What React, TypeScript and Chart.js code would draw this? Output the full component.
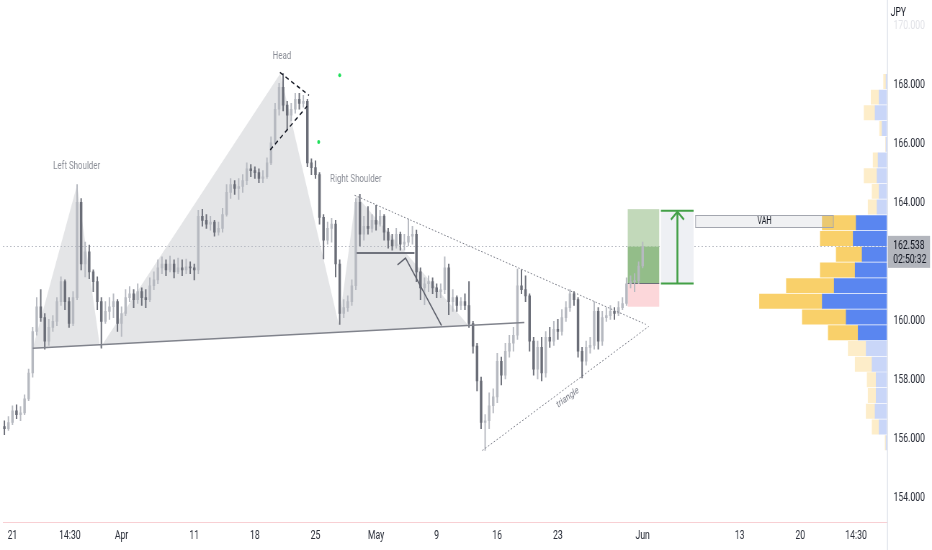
import React, { useEffect, useRef } from "react";
import { Chart, registerables } from "chart.js";

Chart.register(...registerables);

// ---------- output / design geometry ----------
const OUT_W = 932;
const OUT_H = 550;
const DESIGN_W = 1294; // drawn wider, then shown squeezed to 932 (reference is horizontally compressed)
const SQ = OUT_W / DESIGN_W;
const PRICE_AXIS_W = 45 / SQ;
const TIME_AXIS_H = 28;

// ---------- candles (8h bars, index = bar number) ----------
const barOpen = [
  156.42, 156.35, 156.56, 156.96, 156.83, 156.89, 157.36, 158.24, 159.65, 160.49,
  160.12, 159.32, 159.79, 159.99, 160.66, 161.34, 160.66, 159.92, 160.80, 164.03,
  161.94, 162.35, 161.67, 161.34, 160.66, 159.99, 160.33, 160.49, 160.66, 159.92,
  160.26, 160.80, 160.93, 160.73, 161.00, 160.80, 160.73, 161.20, 161.40, 161.81,
  161.94, 161.74, 161.94, 161.67, 161.81, 161.74, 161.84, 161.81, 161.74, 163.56,
  163.42, 163.29, 163.36, 163.02, 163.15, 163.62, 164.37, 164.63, 164.50, 164.57,
  164.77, 165.17, 165.11, 165.04, 164.84, 164.90, 165.37, 166.05, 167.19, 167.93,
  167.33, 166.99, 167.19, 167.53, 167.39, 167.46, 165.37, 165.21, 164.97, 163.52,
  162.75, 163.15, 163.29, 161.94, 160.26, 160.46, 160.66, 161.20, 164.03, 162.95,
  163.22, 163.15, 163.42, 163.29, 163.56, 163.02, 162.75, 162.55, 162.95, 162.61,
  162.68, 162.88, 162.95, 161.67, 161.13, 161.27, 161.34, 161.13, 161.00, 161.07,
  161.81, 160.66, 160.80, 160.53, 160.66, 160.53, 159.92, 159.15, 157.97, 156.56,
  156.62, 157.13, 157.43, 158.64, 158.17, 158.98, 159.25, 159.52, 161.20, 161.07,
  160.86, 159.32, 158.37, 159.11, 158.24, 159.45, 159.32, 159.72, 159.65, 160.12,
  160.46, 160.93, 160.73, 158.98, 158.64, 159.11, 159.18, 160.33, 159.32, 160.12,
  160.19, 160.33, 160.26, 160.46, 160.60, 161.27, 161.34, 161.37, 161.87,
];
const barHigh = [
  156.62, 156.76, 157.13, 157.16, 157.10, 157.50, 158.37, 159.79, 160.80, 161.07,
  160.26, 160.06, 160.19, 160.80, 161.50, 161.40, 160.80, 161.00, 164.63, 164.16,
  162.68, 162.58, 161.74, 161.50, 160.80, 160.66, 160.80, 160.93, 160.73, 160.49,
  161.07, 161.17, 161.07, 161.27, 161.13, 161.07, 161.47, 161.67, 162.08, 162.18,
  162.08, 162.21, 162.08, 162.14, 162.08, 162.11, 162.01, 161.94, 163.76, 163.79,
  163.62, 163.56, 163.42, 163.36, 163.83, 164.63, 164.84, 164.77, 164.84, 164.97,
  165.37, 165.31, 165.24, 165.17, 165.11, 165.54, 166.25, 167.39, 168.07, 168.40,
  167.46, 167.39, 167.73, 167.73, 167.66, 167.53, 165.51, 165.44, 165.04, 163.62,
  163.36, 163.49, 163.42, 162.08, 160.73, 160.86, 161.40, 164.16, 164.30, 163.56,
  163.89, 163.62, 163.93, 163.76, 163.62, 163.15, 162.95, 163.15, 163.02, 162.95,
  163.46, 163.22, 163.09, 161.81, 161.47, 161.54, 161.47, 161.27, 161.27, 162.18,
  161.94, 161.07, 160.86, 160.80, 160.93, 161.34, 159.99, 159.25, 158.10, 156.83,
  157.57, 157.70, 158.91, 158.78, 159.25, 159.52, 159.79, 161.77, 161.74, 161.54,
  160.93, 159.45, 159.32, 159.45, 159.65, 159.79, 159.99, 160.06, 160.39, 160.66,
  161.07, 161.00, 160.80, 159.11, 159.32, 159.45, 160.66, 160.46, 160.33, 160.46,
  160.53, 160.46, 160.66, 160.80, 161.47, 161.54, 161.61, 162.01, 162.68,
];
const barLow = [
  156.15, 156.29, 156.49, 156.69, 156.62, 156.83, 157.30, 158.10, 159.52, 159.99,
  159.05, 159.18, 159.65, 159.85, 160.53, 160.39, 159.79, 159.85, 160.73, 161.74,
  161.50, 161.44, 161.00, 160.39, 159.08, 159.92, 160.06, 160.12, 159.65, 159.48,
  160.19, 160.66, 160.46, 160.60, 160.53, 160.46, 160.66, 161.07, 161.27, 161.61,
  161.54, 161.67, 161.47, 161.61, 161.54, 161.61, 161.61, 161.40, 161.61, 163.22,
  163.15, 163.09, 162.88, 162.92, 163.02, 163.56, 164.16, 164.30, 164.13, 164.37,
  164.63, 164.90, 164.84, 164.70, 164.70, 164.84, 165.31, 165.98, 166.99, 167.13,
  166.49, 166.79, 167.06, 167.19, 167.26, 165.24, 164.97, 164.84, 163.29, 162.11,
  162.61, 162.68, 161.50, 159.89, 160.12, 160.33, 160.53, 161.07, 162.55, 162.75,
  162.95, 163.02, 163.09, 163.22, 162.75, 162.48, 162.41, 162.48, 162.41, 162.41,
  162.55, 162.61, 161.34, 160.73, 160.56, 161.00, 160.93, 160.80, 160.80, 160.93,
  160.22, 160.33, 160.33, 160.39, 160.39, 159.79, 158.91, 157.63, 156.35, 155.61,
  156.35, 156.89, 157.23, 157.84, 158.04, 158.78, 158.98, 159.38, 160.93, 160.66,
  158.98, 158.17, 158.04, 157.97, 158.10, 159.11, 159.18, 159.38, 159.52, 159.99,
  160.33, 160.53, 158.78, 158.07, 158.51, 158.91, 159.05, 159.05, 159.18, 159.99,
  160.06, 160.06, 160.19, 160.39, 160.53, 161.13, 161.00, 161.27, 161.81,
];
const barClose = [
  156.35, 156.56, 156.96, 156.83, 156.89, 157.36, 158.24, 159.65, 160.49, 160.12,
  159.32, 159.79, 159.99, 160.66, 161.34, 160.66, 159.92, 160.80, 164.03, 161.94,
  162.35, 161.67, 161.34, 160.66, 159.99, 160.33, 160.49, 160.66, 159.92, 160.26,
  160.80, 160.93, 160.73, 161.00, 160.80, 160.73, 161.20, 161.40, 161.81, 161.94,
  161.74, 161.94, 161.67, 161.81, 161.74, 161.84, 161.81, 161.74, 163.56, 163.42,
  163.29, 163.36, 163.02, 163.15, 163.62, 164.37, 164.63, 164.50, 164.57, 164.77,
  165.17, 165.11, 165.04, 164.84, 164.90, 165.37, 166.05, 167.19, 167.93, 167.33,
  166.99, 167.19, 167.53, 167.39, 167.46, 165.37, 165.21, 164.97, 163.52, 162.75,
  163.15, 163.29, 161.94, 160.26, 160.46, 160.66, 161.20, 164.03, 162.95, 163.22,
  163.15, 163.42, 163.29, 163.56, 163.02, 162.75, 162.55, 162.95, 162.61, 162.68,
  162.88, 162.95, 161.67, 161.13, 161.27, 161.34, 161.13, 161.00, 161.07, 161.81,
  160.66, 160.80, 160.53, 160.66, 160.53, 159.92, 159.15, 157.97, 156.56, 156.62,
  157.13, 157.43, 158.64, 158.17, 158.98, 159.25, 159.52, 161.20, 161.07, 160.86,
  159.32, 158.37, 159.11, 158.24, 159.45, 159.32, 159.72, 159.65, 160.12, 160.46,
  160.93, 160.73, 158.98, 158.64, 159.11, 159.18, 160.33, 159.32, 160.12, 160.19,
  160.33, 160.26, 160.46, 160.60, 161.27, 161.34, 161.37, 161.87, 162.54,
];

// ---------- axes ----------
const barMin = -0.37;
const barMax = 218.48;
const priceMin = 153.185;
const priceMax = 170.761;
const priceTicks = [154, 156, 158, 160, 164, 166, 168, 170];
const timeTickBars = [2, 16.2, 29, 47, 62, 77, 92, 107, 122, 137, 158, 182, 197, 210.8];
const timeTickLabels = ["21", "14:30", "Apr", "11", "18", "25", "May", "9", "16", "23", "Jun", "13", "20", "14:30"];
const lastPrice = 162.538;
const countdown = "02:50:32";
const currency = "JPY";

// ---------- volume profile (24 rows, top to bottom) ----------
const vpHigh = 168.4;
const vpLow = 155.61;
const vpUp = [1, 8, 12, 5, 1, 9, 10, 8, 10, 31, 34, 25, 32, 53, 65, 41, 29, 21, 15, 11, 11, 12, 8, 1];
const vpDown = [2.5, 8, 11, 2.5, 0.5, 5, 13, 7, 9, 34, 33, 26, 35, 48, 63, 44, 30, 18, 17, 9, 8, 9, 7, 1];
const vpValueAreaRows = [9, 10, 11, 12, 13, 14, 15, 16];
const vahBox = { bar0: 171.1, bar1: 205.2, top: 163.59, bottom: 163.19, label: "VAH" };

// ---------- drawings ----------
const hsBars = [7.03, 18.0, 23.7, 68.3, 82.8, 87.05, 114.8];
const hsPrices = [159.08, 164.63, 159.09, 168.4, 159.87, 164.27, 159.87];
const necklineBars = [7.03, 128.7];
const necklinePrices = [159.08, 159.95];
const triUpperBars = [86.7, 158.8];
const triUpperPrices = [164.27, 159.89];
const triLowerBars = [118.3, 159.5];
const triLowerPrices = [155.61, 159.82];
const rsLevelBars = [87.2, 101.5];
const rsLevelPrices = [162.31, 162.31];
const breakBars = [97.3, 99.3, 108.2];
const breakPrices = [161.91, 162.14, 159.85];
const wedgeUpperBars = [68.2, 75.4];
const wedgeUpperPrices = [168.44, 167.66];
const wedgeLowerBars = [65.8, 74.9];
const wedgeLowerPrices = [165.81, 167.29];
const dotBars = [83.0, 77.8];
const dotPrices = [168.34, 166.08];
const textLabels = ["Left Shoulder", "Head", "Right Shoulder"];
const textBars = [17.9, 68.7, 87.0];
const textPrices = [165.24, 168.98, 164.8];
const triangleLabel = { text: "triangle", bar: 139.45, price: 157.4 };
const position = { bar0: 154.3, bar1: 162.1, target: 163.8, entry: 161.28, stop: 160.49 };
const measure = { bar0: 162.5, bar1: 170.6, arrowBar: 166.6, top: 163.75, bottom: 161.28 };

// ---------- colours ----------
const UP = "#b6b9c0";
const DOWN = "#6a6d77";

const rowSize = (vpHigh - vpLow) / vpUp.length;
const rowCenter = vpUp.map((_, i) => vpHigh - (i + 0.5) * rowSize);

const pts = (bs: number[], ps: number[]) => bs.map((b, i) => ({ x: b, y: ps[i] }));

const lineDs = (bs: number[], ps: number[], color: string, width: number, dash: number[] = []) => ({
  type: "line" as const,
  data: pts(bs, ps),
  borderColor: color,
  borderWidth: width,
  borderDash: dash,
  pointRadius: 0,
  fill: false,
  tension: 0,
  xAxisID: "x",
  yAxisID: "y",
  order: 1,
});

const drawingsPlugin = {
  id: "drawings",
  beforeDatasetsDraw(chart: any) {
    const { ctx, chartArea: a } = chart;
    const X = (v: number) => chart.scales.x.getPixelForValue(v);
    const Y = (v: number) => chart.scales.y.getPixelForValue(v);
    ctx.save();
    ctx.beginPath();
    ctx.rect(a.left, a.top, a.right - a.left, a.bottom - a.top);
    ctx.clip();

    // head & shoulders shading
    ctx.fillStyle = "rgba(120,123,134,0.2)";
    ctx.beginPath();
    hsBars.forEach((b, i) => {
      const px = X(b);
      const py = Y(hsPrices[i]);
      if (i === 0) ctx.moveTo(px, py);
      else ctx.lineTo(px, py);
    });
    ctx.closePath();
    ctx.fill();

    // last price dotted line
    const yp = Math.round(Y(lastPrice)) + 0.5;
    ctx.strokeStyle = "#b9bcc4";
    ctx.lineWidth = 1;
    ctx.setLineDash([2, 3]);
    ctx.beginPath();
    ctx.moveTo(a.left, yp);
    ctx.lineTo(a.right, yp);
    ctx.stroke();
    ctx.setLineDash([]);

    // long position tool
    const rect = (x0: number, y0: number, x1: number, y1: number, c: string) => {
      ctx.fillStyle = c;
      ctx.fillRect(Math.min(x0, x1), Math.min(y0, y1), Math.abs(x1 - x0), Math.abs(y1 - y0));
    };
    const pl = X(position.bar0);
    const pr = X(position.bar1);
    rect(pl, Y(position.target), pr, Y(lastPrice), "#c2d9ba");
    rect(pl, Y(lastPrice), pr, Y(position.entry), "#93bd89");
    rect(pl, Y(position.entry), pr, Y(position.stop), "#fcd7da");
    ctx.strokeStyle = "#6b6e78";
    ctx.lineWidth = 1;
    ctx.beginPath();
    ctx.moveTo(pl, Math.round(Y(position.entry)) + 0.5);
    ctx.lineTo(pr, Math.round(Y(position.entry)) + 0.5);
    ctx.stroke();

    // measure background
    rect(X(measure.bar0), Y(measure.top), X(measure.bar1), Y(measure.bottom), "#eef0f4");
    ctx.restore();
  },
  afterDatasetsDraw(chart: any) {
    const { ctx, chartArea: a } = chart;
    const X = (v: number) => chart.scales.x.getPixelForValue(v);
    const Y = (v: number) => chart.scales.y.getPixelForValue(v);
    ctx.save();
    ctx.beginPath();
    ctx.rect(a.left, a.top, a.right - a.left, a.bottom - a.top);
    ctx.clip();

    // measure arrow
    const green = "#43a047";
    ctx.strokeStyle = green;
    ctx.lineWidth = 2;
    const mx0 = X(measure.bar0);
    const mx1 = X(measure.bar1);
    const mt = Y(measure.top);
    const mb = Y(measure.bottom);
    const ax = X(measure.arrowBar);
    ctx.beginPath();
    ctx.moveTo(mx0, mt);
    ctx.lineTo(mx1, mt);
    ctx.moveTo(mx0, mb);
    ctx.lineTo(mx1, mb);
    ctx.stroke();
    ctx.lineWidth = 2.6;
    ctx.beginPath();
    ctx.moveTo(ax, mb);
    ctx.lineTo(ax, mt + 1);
    ctx.stroke();
    ctx.lineWidth = 2.2;
    ctx.beginPath();
    ctx.moveTo(ax - 9, mt + 9);
    ctx.lineTo(ax, mt + 1);
    ctx.lineTo(ax + 9, mt + 9);
    ctx.stroke();

    // VAH box
    const vx0 = X(vahBox.bar0);
    const vx1 = X(vahBox.bar1);
    const vy0 = Y(vahBox.top);
    const vy1 = Y(vahBox.bottom);
    ctx.fillStyle = "rgba(140,145,160,0.13)";
    ctx.fillRect(vx0, vy0, vx1 - vx0, vy1 - vy0);
    ctx.strokeStyle = "#a3a6af";
    ctx.lineWidth = 1;
    ctx.strokeRect(vx0, Math.round(vy0) + 0.5, vx1 - vx0, Math.round(vy1 - vy0));
    ctx.fillStyle = "#131722";
    ctx.font = "10px Roboto";
    ctx.textAlign = "center";
    ctx.textBaseline = "middle";
    ctx.fillText(vahBox.label, (vx0 + vx1) / 2, (vy0 + vy1) / 2 + 0.5);

    // pattern labels
    ctx.fillStyle = "#8a8d96";
    ctx.font = "11px Roboto";
    textLabels.forEach((t, i) => ctx.fillText(t, X(textBars[i]), Y(textPrices[i])));

    // triangle label, along the lower line
    const ang = Math.atan2(
      Y(triLowerPrices[1]) - Y(triLowerPrices[0]),
      X(triLowerBars[1]) - X(triLowerBars[0])
    );
    ctx.save();
    ctx.translate(X(triangleLabel.bar), Y(triangleLabel.price));
    ctx.rotate(ang);
    ctx.font = "10px Roboto";
    ctx.fillStyle = "#787b86";
    ctx.fillText(triangleLabel.text, 0, 0);
    ctx.restore();
    ctx.restore();
  },
  afterDraw(chart: any) {
    const { ctx, chartArea: a } = chart;
    const Y = (v: number) => chart.scales.y.getPixelForValue(v);
    ctx.save();
    // price axis separator
    ctx.strokeStyle = "#e0e3eb";
    ctx.lineWidth = 1.4;
    ctx.beginPath();
    ctx.moveTo(a.right + 0.7, 0);
    ctx.lineTo(a.right + 0.7, OUT_H);
    ctx.stroke();

    // currency header
    ctx.fillStyle = "#131722";
    ctx.font = "12px Roboto";
    ctx.textAlign = "left";
    ctx.textBaseline = "middle";
    ctx.fillText(currency, a.right + 5, 13);

    // last price label
    const yp = Y(lastPrice);
    ctx.fillStyle = "#b3b6bd";
    ctx.fillRect(a.right + 1.4, yp - 10.5, 42 / SQ, 32);
    ctx.fillStyle = "#131722";
    ctx.font = "12px Roboto";
    ctx.fillText(lastPrice.toFixed(3), a.right + 8.5, yp);
    ctx.fillText(countdown, a.right + 8.5, yp + 14);
    ctx.restore();
  },
};

export default function App() {
  const canvasRef = useRef<HTMLCanvasElement | null>(null);

  useEffect(() => {
    document.body.style.margin = "0";
    const canvas = canvasRef.current;
    if (!canvas) return;

    const isUp = barClose.map((c, i) => c >= barOpen[i]);
    const candleColors = isUp.map((u) => (u ? UP : DOWN));
    const inVA = vpUp.map((_, i) => vpValueAreaRows.includes(i));

    const datasets: any[] = [
      {
        type: "line",
        data: pts(dotBars, dotPrices),
        showLine: false,
        pointRadius: 2,
        pointBackgroundColor: "#1fe05a",
        pointBorderWidth: 0,
        xAxisID: "x",
        yAxisID: "y",
        order: 0,
      },
      lineDs(necklineBars, necklinePrices, "#80838c", 1.5),
      lineDs(triUpperBars, triUpperPrices, "#787b86", 1, [2, 2.5]),
      lineDs(triLowerBars, triLowerPrices, "#787b86", 1, [2, 2.5]),
      lineDs(rsLevelBars, rsLevelPrices, "#6f727c", 2),
      lineDs(breakBars, breakPrices, "#5d606b", 1.5),
      lineDs(wedgeUpperBars, wedgeUpperPrices, "#131722", 1.5, [5, 4]),
      lineDs(wedgeLowerBars, wedgeLowerPrices, "#131722", 1.5, [5, 4]),
      {
        type: "bar",
        data: barClose.map((c, i) => ({ x: i, y: [barOpen[i], c] })),
        backgroundColor: candleColors,
        barThickness: 2.8,
        minBarLength: 1,
        grouped: false,
        xAxisID: "x",
        yAxisID: "y",
        order: 2,
      },
      {
        type: "bar",
        data: barClose.map((_, i) => ({ x: i, y: [barLow[i], barHigh[i]] })),
        backgroundColor: candleColors,
        barThickness: 1.3,
        grouped: false,
        xAxisID: "x",
        yAxisID: "y",
        order: 3,
      },
      {
        type: "bar",
        indexAxis: "y",
        data: rowCenter.map((p, i) => ({ y: p, x: [0, vpUp[i]] })),
        backgroundColor: inVA.map((v) => (v ? "#5a86f0" : "#c9d6f8")),
        barThickness: 14.3,
        grouped: false,
        xAxisID: "xv",
        yAxisID: "y",
        order: 2,
      },
      {
        type: "bar",
        indexAxis: "y",
        data: rowCenter.map((p, i) => ({ y: p, x: [vpUp[i], vpUp[i] + vpDown[i]] })),
        backgroundColor: inVA.map((v) => (v ? "#f9d06a" : "#fdedc9")),
        barThickness: 14.3,
        grouped: false,
        xAxisID: "xv",
        yAxisID: "y",
        order: 2,
      },
    ];

    const chart = new Chart(canvas, {
      type: "bar",
      data: { datasets },
      plugins: [drawingsPlugin],
      options: {
        animation: false,
        responsive: false,
        devicePixelRatio: 1,
        events: [],
        layout: { padding: 0 },
        plugins: {
          legend: { display: false },
          tooltip: { enabled: false },
          title: { display: false },
        },
        scales: {
          x: {
            type: "linear",
            position: "bottom",
            min: barMin,
            max: barMax,
            offset: false,
            grid: { display: false, drawTicks: false },
            border: { display: true, color: "#f8cfd3", width: 1 },
            afterBuildTicks: (s: any) => {
              s.ticks = timeTickBars.map((v) => ({ value: v }));
            },
            afterFit: (s: any) => {
              s.height = TIME_AXIS_H;
              s.paddingLeft = 0;
              s.paddingRight = 0;
              s.paddingTop = 0;
              s.paddingBottom = 0;
            },
            ticks: {
              autoSkip: false,
              maxRotation: 0,
              minRotation: 0,
              padding: 7,
              color: "#2a2e39",
              font: { size: 12, family: "Roboto" },
              callback: (_v: any, i: number) => timeTickLabels[i],
            },
          },
          y: {
            type: "linear",
            position: "right",
            min: priceMin,
            max: priceMax,
            offset: false,
            grid: { display: false, drawTicks: false },
            border: { display: false },
            afterBuildTicks: (s: any) => {
              s.ticks = priceTicks.map((v) => ({ value: v }));
            },
            afterFit: (s: any) => {
              s.width = PRICE_AXIS_W;
              s.paddingLeft = 0;
              s.paddingRight = 0;
              s.paddingTop = 0;
              s.paddingBottom = 0;
            },
            ticks: {
              autoSkip: false,
              padding: 9,
              color: (c: any) => (c.tick && c.tick.value === 170 ? "#e2e3e8" : "#2a2e39"),
              font: { size: 12, family: "Roboto" },
              callback: (v: any) => Number(v).toFixed(3),
            },
          },
          xv: {
            type: "linear",
            axis: "x",
            display: false,
            reverse: true,
            min: 0,
            max: 887,
            offset: false,
          },
        },
      } as any,
    });

    return () => chart.destroy();
  }, []);

  return (
    <div style={{ width: OUT_W, height: OUT_H, overflow: "hidden", background: "#ffffff" }}>
      <canvas
        ref={canvasRef}
        width={DESIGN_W}
        height={OUT_H}
        style={{ width: `${OUT_W}px`, height: `${OUT_H}px`, display: "block" }}
      />
    </div>
  );
}
